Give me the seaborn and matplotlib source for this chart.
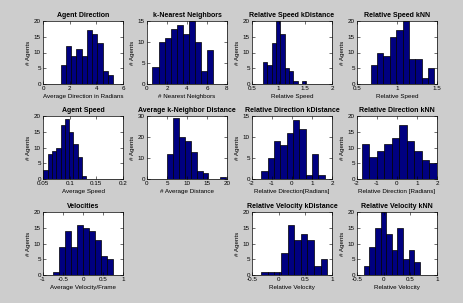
import numpy as np
import pandas as pd
import matplotlib
matplotlib.use('Agg')
import matplotlib.pyplot as plt
import seaborn as sns

# Histogram data: 10 bins per panel (first edge, last edge, counts)
titles = ['Agent Direction', 'k-Nearest Neighbors', 'Relative Speed kDistance', 'Relative Speed kNN',
          'Agent Speed', 'Average k-Neighbor Distance', 'Relative Direction kDistance', 'Relative Direction kNN',
          'Velocities', None, 'Relative Velocity kDistance', 'Relative Velocity kNN']
xlabels = ['Average Direction in Radians', '# Nearest Neighbors', 'Relative Speed', 'Relative Speed',
           'Average Speed', '# Average Distance', 'Relative Direction[Radians]', 'Relative Direction [Radians]',
           'Average Velocity/Frame', None, 'Relative Velocity', 'Relative Velocity']

agent_direction = [6, 12, 9, 11, 9, 17, 16, 13, 4, 3]
k_nearest = [4, 10, 11, 13, 14, 12, 15, 10, 3, 8]
rel_speed_kdist = [7, 6, 13, 20, 16, 5, 4, 1, 0, 1]
rel_speed_knn = [6, 10, 9, 15, 17, 20, 8, 8, 2, 5]
agent_speed = [3, 8, 9, 10, 17, 19, 15, 11, 7, 1]
avg_k_dist = [12, 29, 20, 18, 13, 4, 3, 0, 0, 1]
rel_dir_kdist = [2, 5, 9, 8, 11, 14, 12, 1, 6, 1]
rel_dir_knn = [11, 7, 9, 11, 13, 17, 12, 9, 6, 5]
velocities = [1, 9, 14, 9, 16, 15, 14, 11, 6, 5]
rel_vel_kdist = [1, 1, 1, 7, 16, 11, 13, 11, 3, 5]
rel_vel_knn = [3, 9, 15, 20, 13, 8, 15, 5, 8, 4]

counts = [agent_direction, k_nearest, rel_speed_kdist, rel_speed_knn,
          agent_speed, avg_k_dist, rel_dir_kdist, rel_dir_knn,
          velocities, None, rel_vel_kdist, rel_vel_knn]
bin_range = [(1.33, 5.26), (0.55, 6.65), (0.706, 1.52), (0.672, 1.466),
             (0.0505, 0.1314), (5.0, 19.8), (-1.54, 1.63), (-1.75, 2.0),
             (-0.75, 0.76), None, (-0.33, 0.91), (-0.374, 0.676)]
xlims = [(0, 6), (0, 8), (0.5, 2), (0.5, 1.5),
         (0.05, 0.2), (0, 20), (-2, 2), (-2, 2),
         (-1, 1), None, (-0.5, 1), (-0.5, 1)]
ylims = [20, 15, 20, 20, 20, 30, 15, 20, 20, None, 20, 20]
xticks = [[0, 2, 4, 6], [0, 2, 4, 6, 8], [0.5, 1, 1.5, 2], [0.5, 1, 1.5],
          [0.05, 0.1, 0.15, 0.2], [0, 5, 10, 15, 20], [-2, -1, 0, 1, 2], [-2, -1, 0, 1, 2],
          [-1, -0.5, 0, 0.5, 1], None, [-0.5, 0, 0.5, 1], [-0.5, 0, 0.5, 1]]


def draw_panel(ax, i):
    lo, hi = bin_range[i]
    edges = np.linspace(lo, hi, 11)
    df = pd.DataFrame({'x': (edges[:-1] + edges[1:]) / 2, 'n': counts[i]})
    sns.histplot(data=df, x='x', weights='n', bins=edges.tolist(), ax=ax,
                 color=(0, 0, 0.5), edgecolor='black', linewidth=0.5, alpha=1)
    ax.set_xlim(*xlims[i])
    ax.set_ylim(0, ylims[i])
    ax.set_xticks(xticks[i])
    ax.set_xticklabels([f'{t:g}' for t in xticks[i]])
    step = 10 if ylims[i] == 30 else 5
    ax.set_yticks(np.arange(0, ylims[i] + 1, step))
    ax.set_title(titles[i], fontsize=5, fontweight='bold', pad=3)
    ax.set_xlabel(xlabels[i], fontsize=4.5, labelpad=2)
    ax.set_ylabel('# Agents', fontsize=4.5, labelpad=2)
    ax.tick_params(direction='in', length=2, width=0.4, labelsize=4.5, pad=1.5,
                   top=True, right=True)
    for s in ax.spines.values():
        s.set_linewidth(0.5)
    ax.set_facecolor('white')


def main():
    plt.rcParams['font.family'] = ['Liberation Sans', 'DejaVu Sans']
    fig = plt.figure(figsize=(4.64, 3.03), dpi=100, facecolor='#cdcdcd')
    W, H = 464, 303
    lefts = [43, 147, 252, 357]
    tops = [21, 116, 212]
    for i in range(12):
        if counts[i] is None:
            continue
        r, c = divmod(i, 4)
        ax = fig.add_axes([lefts[c] / W, 1 - (tops[r] + 63) / H, 80 / W, 63 / H])
        draw_panel(ax, i)
    fig.savefig('out.png', dpi=100, facecolor=fig.get_facecolor())


if __name__ == '__main__':
    main()
